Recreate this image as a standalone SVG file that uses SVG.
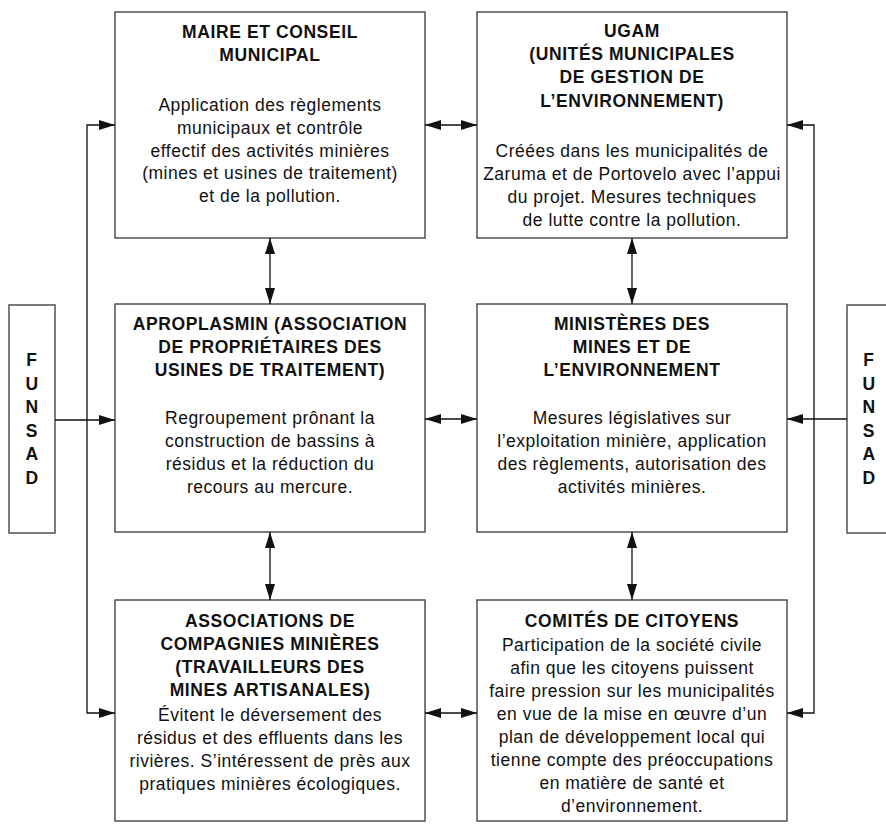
<svg xmlns="http://www.w3.org/2000/svg" width="886" height="824" viewBox="0 0 886 824">
<defs>
<marker id="ah" viewBox="0 0 16 10" refX="16" refY="5" markerWidth="16" markerHeight="10" markerUnits="userSpaceOnUse" orient="auto-start-reverse">
<path d="M0,0 L16,5 L0,10 Z" fill="#111"/>
</marker>
<style>
.box{fill:#fff;stroke:#444;stroke-width:1.4}
.t{font-family:"Liberation Sans",Arial,sans-serif;font-size:17.5px;font-weight:bold;text-anchor:middle;fill:#111;letter-spacing:0.6px}
.b{font-family:"Liberation Sans",Arial,sans-serif;font-size:17.5px;text-anchor:middle;fill:#111;letter-spacing:0.5px}
.c{fill:none;stroke:#111;stroke-width:1.3}
</style>
</defs>
<rect width="886" height="824" fill="#fff"/>

<g id="maire">
<rect class="box" x="115" y="12" width="310" height="226"/>
<text class="t" x="270" y="37.5">MAIRE ET CONSEIL</text>
<text class="t" x="270" y="60.5">MUNICIPAL</text>
<text class="b" x="270" y="111">Application des règlements</text>
<text class="b" x="270" y="134">municipaux et contrôle</text>
<text class="b" x="270" y="156.5">effectif des activités minières</text>
<text class="b" x="270" y="179">(mines et usines de traitement)</text>
<text class="b" x="270" y="202">et de la pollution.</text>
</g>

<g id="ugam">
<rect class="box" x="477" y="12" width="310" height="226"/>
<text class="t" x="632" y="37">UGAM</text>
<text class="t" x="632" y="60">(UNITÉS MUNICIPALES</text>
<text class="t" x="632" y="83">DE GESTION DE</text>
<text class="t" x="632" y="106.5">L’ENVIRONNEMENT)</text>
<text class="b" x="632" y="157">Créées dans les municipalités de</text>
<text class="b" x="632" y="180">Zaruma et de Portovelo avec l’appui</text>
<text class="b" x="632" y="203">du projet. Mesures techniques</text>
<text class="b" x="632" y="225.5">de lutte contre la pollution.</text>
</g>

<g id="aproplasmin">
<rect class="box" x="115" y="304" width="310" height="228"/>
<text class="t" x="270" y="330">APROPLASMIN (ASSOCIATION</text>
<text class="t" x="270" y="353">DE PROPRIÉTAIRES DES</text>
<text class="t" x="270" y="376">USINES DE TRAITEMENT)</text>
<text class="b" x="270" y="424">Regroupement prônant la</text>
<text class="b" x="270" y="447">construction de bassins à</text>
<text class="b" x="270" y="470">résidus et la réduction du</text>
<text class="b" x="270" y="493">recours au mercure.</text>
</g>

<g id="ministeres">
<rect class="box" x="477" y="304" width="310" height="228"/>
<text class="t" x="632" y="330">MINISTÈRES DES</text>
<text class="t" x="632" y="353">MINES ET DE</text>
<text class="t" x="632" y="376">L’ENVIRONNEMENT</text>
<text class="b" x="632" y="424">Mesures législatives sur</text>
<text class="b" x="632" y="447">l’exploitation minière, application</text>
<text class="b" x="632" y="470">des règlements, autorisation des</text>
<text class="b" x="632" y="493">activités minières.</text>
</g>

<g id="associations">
<rect class="box" x="115" y="600" width="310" height="221"/>
<text class="t" x="270" y="627">ASSOCIATIONS DE</text>
<text class="t" x="270" y="650">COMPAGNIES MINIÈRES</text>
<text class="t" x="270" y="673">(TRAVAILLEURS DES</text>
<text class="t" x="270" y="696">MINES ARTISANALES)</text>
<text class="b" x="270" y="721">Évitent le déversement des</text>
<text class="b" x="270" y="744">résidus et des effluents dans les</text>
<text class="b" x="270" y="767">rivières. S’intéressent de près aux</text>
<text class="b" x="270" y="790">pratiques minières écologiques.</text>
</g>

<g id="comites">
<rect class="box" x="477" y="600" width="310" height="221"/>
<text class="t" x="632" y="627">COMITÉS DE CITOYENS</text>
<text class="b" x="632" y="651">Participation de la société civile</text>
<text class="b" x="632" y="674">afin que les citoyens puissent</text>
<text class="b" x="632" y="697">faire pression sur les municipalités</text>
<text class="b" x="632" y="720">en vue de la mise en œuvre d’un</text>
<text class="b" x="632" y="743">plan de développement local qui</text>
<text class="b" x="632" y="766">tienne compte des préoccupations</text>
<text class="b" x="632" y="789">en matière de santé et</text>
<text class="b" x="632" y="812">d’environnement.</text>
</g>

<g id="funsad-left">
<rect class="box" x="9" y="305" width="46" height="228"/>
<text class="t" x="32" y="366">F</text>
<text class="t" x="32" y="389.5">U</text>
<text class="t" x="32" y="413">N</text>
<text class="t" x="32" y="436.5">S</text>
<text class="t" x="32" y="460">A</text>
<text class="t" x="32" y="483.5">D</text>
</g>

<g id="funsad-right">
<rect class="box" x="847" y="305" width="46" height="228"/>
<text class="t" x="869" y="366">F</text>
<text class="t" x="869" y="389.5">U</text>
<text class="t" x="869" y="413">N</text>
<text class="t" x="869" y="436.5">S</text>
<text class="t" x="869" y="460">A</text>
<text class="t" x="869" y="483.5">D</text>
</g>

<g id="connectors">
<!-- left bus -->
<path class="c" d="M115,125 H87 V713 H115" marker-start="url(#ah)" marker-end="url(#ah)"/>
<path class="c" d="M55,420 H115" marker-end="url(#ah)"/>
<!-- right bus -->
<path class="c" d="M787,125 H814 V713 H787" marker-start="url(#ah)" marker-end="url(#ah)"/>
<path class="c" d="M847,419 H787" marker-end="url(#ah)"/>
<!-- horizontal double arrows -->
<path class="c" d="M425,125 H477" marker-start="url(#ah)" marker-end="url(#ah)"/>
<path class="c" d="M425,419 H477" marker-start="url(#ah)" marker-end="url(#ah)"/>
<path class="c" d="M425,713 H477" marker-start="url(#ah)" marker-end="url(#ah)"/>
<!-- vertical double arrows -->
<path class="c" d="M270,238 V304" marker-start="url(#ah)" marker-end="url(#ah)"/>
<path class="c" d="M270,532 V600" marker-start="url(#ah)" marker-end="url(#ah)"/>
<path class="c" d="M632,238 V304" marker-start="url(#ah)" marker-end="url(#ah)"/>
<path class="c" d="M632,532 V600" marker-start="url(#ah)" marker-end="url(#ah)"/>
</g>
</svg>
